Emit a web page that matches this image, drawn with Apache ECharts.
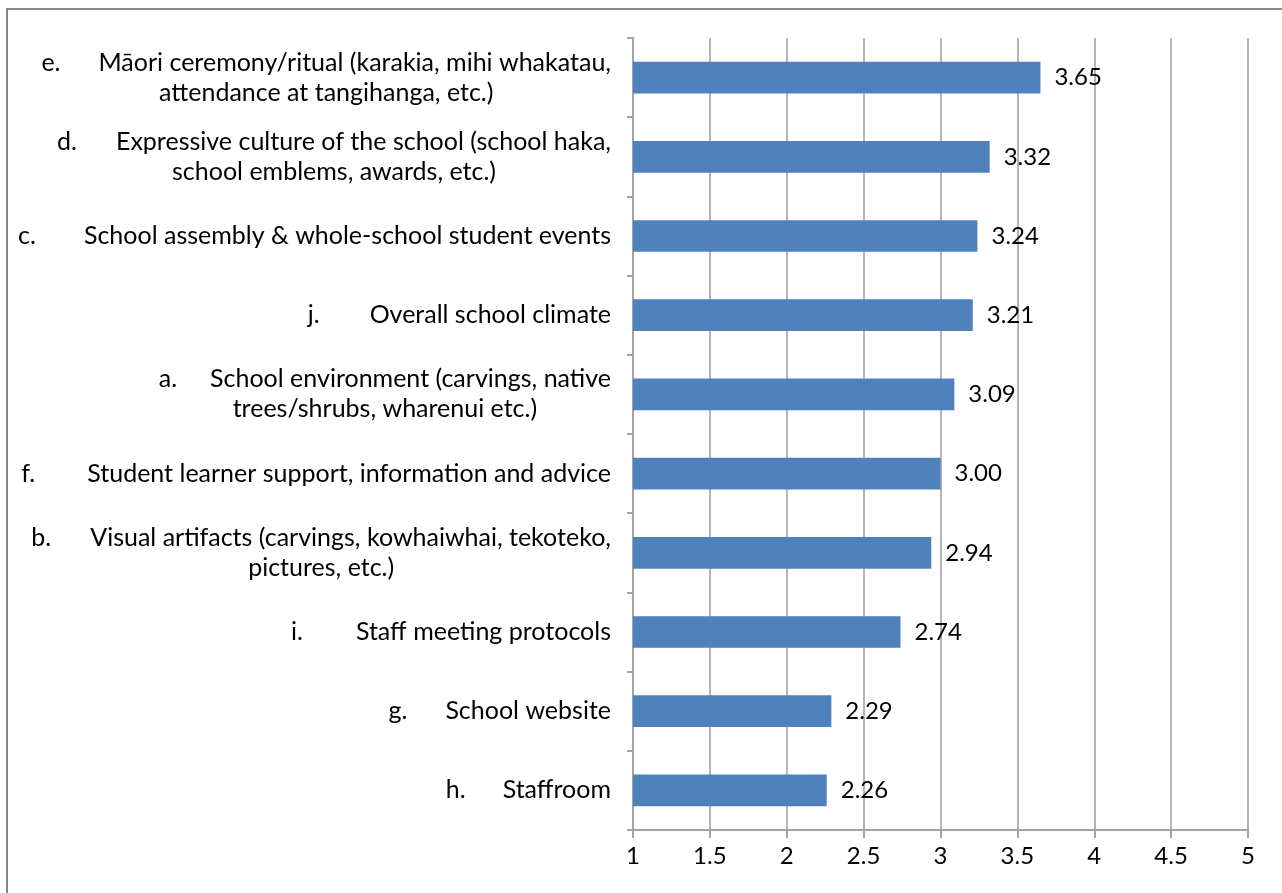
<!DOCTYPE html>
<html>
<head>
<meta charset="utf-8">
<script src="https://cdn.jsdelivr.net/npm/echarts@6/dist/echarts.min.js"></script>
<style>
html,body{margin:0;padding:0;background:#fff;}
#chart{width:1282px;height:893px;}
</style>
</head>
<body>
<div id="chart"></div>
<script>
// Categories listed bottom to top
const letters = ['h.', 'g.', 'i.', 'b.', 'f.', 'a.', 'j.', 'c.', 'd.', 'e.'];
const line1 = [
  'Staffroom',
  'School website',
  'Staff meeting protocols',
  'Visual artifacts (carvings, kowhaiwhai, tekoteko,',
  'Student learner support, information and advice',
  'School environment (carvings, native',
  'Overall school climate',
  'School assembly & whole-school student events',
  'Expressive culture of the school (school haka,',
  'Māori ceremony/ritual (karakia, mihi whakatau,'
];
const line2 = [
  '',
  '',
  '',
  'pictures, etc.)',
  '',
  'trees/shrubs, wharenui etc.)',
  '',
  '',
  'school emblems, awards, etc.)',
  'attendance at tangihanga, etc.)'
];
const values = [2.26, 2.29, 2.74, 2.94, 3.00, 3.09, 3.21, 3.24, 3.32, 3.65];
const xTicks = [1, 1.5, 2, 2.5, 3, 3.5, 4, 4.5, 5];

const FONT = 'Lato';
const FS = 24;
const CFS = 25;
// gap (tab) widths between letter and text, per label
const gaps = {'h.':37,'g.':38,'i.':53,'b.':39,'f.':52,'a.':33,'j.':50,'c.':48,'d.':39,'e.':38};

const cats = letters.map((l, i) => l);
const chart = echarts.init(document.getElementById('chart'), null, {renderer: 'canvas'});
const richBase = {fontFamily: FONT, fontSize: CFS, color: '#000', align: 'center', lineHeight: 30};
const rich = {t: Object.assign({}, richBase)};
Object.keys(gaps).forEach(k => {
  rich['g' + gaps[k]] = Object.assign({}, richBase, {width: gaps[k]});
});

chart.setOption({
  animation: false,
  graphic: [{
    type: 'rect', left: 6, top: 8, z: -10,
    shape: {x: 0, y: 0, width: 1300, height: 900},
    style: {fill: '#fff', stroke: '#878787', lineWidth: 2}
  }],
  grid: {left: 633, right: 34, top: 38, bottom: 63, containLabel: false},
  xAxis: {
    type: 'value', min: xTicks[0], max: xTicks[xTicks.length - 1], interval: 0.5,
    axisLine: {show: true, lineStyle: {color: '#a3a3a3', width: 2}},
    axisTick: {show: true, length: 8, lineStyle: {color: '#a3a3a3', width: 2}},
    splitLine: {show: true, lineStyle: {color: '#b5b5b5', width: 2}},
    axisLabel: {margin: 14, fontFamily: FONT, fontSize: FS, color: '#000',
      formatter: v => String(v)}
  },
  yAxis: {
    type: 'category', data: cats,
    axisLine: {show: true, lineStyle: {color: '#a3a3a3', width: 2}},
    axisTick: {show: true, length: 6, lineStyle: {color: '#a3a3a3', width: 2}},
    splitLine: {show: false},
    axisLabel: {
      margin: 22, align: 'right', rich: rich,
      formatter: (v, idx) => {
        const g = 'g' + gaps[letters[idx]];
        let s = '{t|' + letters[idx] + '}{' + g + '| }{t|' + line1[idx] + '}';
        if (line2[idx]) s += '\n{t|' + line2[idx] + '}';
        return s;
      }
    }
  },
  series: [{
    type: 'bar', data: values, barWidth: '40%',
    itemStyle: {color: '#4F81BD'},
    label: {show: true, position: 'right', distance: 14,
      fontFamily: FONT, fontSize: FS, color: '#000',
      formatter: p => p.value.toFixed(2)}
  }]
});
</script>
</body>
</html>
